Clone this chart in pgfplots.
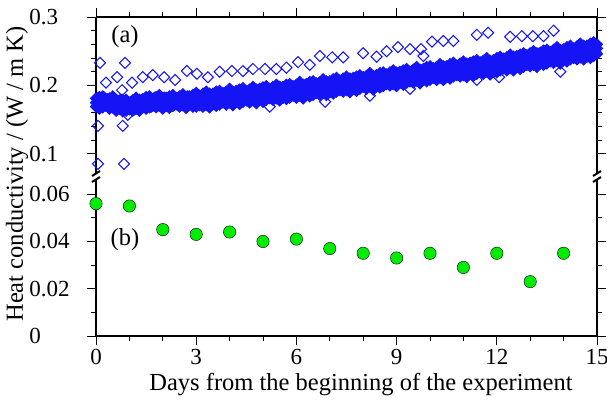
\documentclass[border=0pt]{standalone}
\usepackage{fontspec}
\setmainfont{Liberation Serif}
\usepackage{pgfplots}
\usepackage{pgfplotstable}
\pgfplotsset{compat=1.18}
\definecolor{ptblue}{RGB}{20,20,245}
\definecolor{ptgreen}{RGB}{0,236,0}

% dense logger band, panel (a)
\pgfplotstableread{
x lo mid hi
0.0 0.169 0.175 0.181
0.1 0.166 0.177 0.183
0.2 0.168 0.174 0.184
0.3 0.170 0.176 0.180
0.4 0.166 0.172 0.181
0.5 0.168 0.174 0.184
0.6 0.163 0.174 0.179
0.7 0.166 0.172 0.178
0.8 0.162 0.173 0.179
0.9 0.163 0.169 0.179
1.0 0.165 0.171 0.175
1.1 0.163 0.169 0.178
1.2 0.166 0.172 0.182
1.3 0.163 0.174 0.179
1.4 0.168 0.174 0.180
1.5 0.166 0.177 0.183
1.6 0.168 0.174 0.184
1.7 0.170 0.176 0.180
1.8 0.168 0.174 0.183
1.9 0.170 0.176 0.186
2.0 0.166 0.177 0.182
2.1 0.170 0.176 0.182
2.2 0.167 0.178 0.184
2.3 0.170 0.176 0.186
2.4 0.172 0.178 0.182
2.5 0.169 0.175 0.184
2.6 0.171 0.177 0.187
2.7 0.167 0.178 0.183
2.8 0.172 0.178 0.184
2.9 0.169 0.180 0.186
3.0 0.169 0.177 0.189
3.1 0.171 0.179 0.185
3.2 0.169 0.177 0.188
3.3 0.171 0.179 0.191
3.4 0.168 0.181 0.188
3.5 0.172 0.180 0.188
3.6 0.170 0.183 0.191
3.7 0.172 0.180 0.192
3.8 0.175 0.183 0.189
3.9 0.172 0.180 0.191
4.0 0.175 0.183 0.195
4.1 0.171 0.184 0.191
4.2 0.176 0.184 0.192
4.3 0.173 0.186 0.194
4.4 0.176 0.184 0.196
4.5 0.178 0.186 0.192
4.6 0.175 0.183 0.194
4.7 0.178 0.186 0.198
4.8 0.174 0.187 0.194
4.9 0.179 0.187 0.195
5.0 0.176 0.189 0.197
5.1 0.179 0.187 0.199
5.2 0.181 0.189 0.195
5.3 0.179 0.187 0.198
5.4 0.181 0.189 0.201
5.5 0.178 0.191 0.198
5.6 0.182 0.190 0.198
5.7 0.180 0.193 0.201
5.8 0.182 0.190 0.202
5.9 0.185 0.193 0.199
6.0 0.182 0.190 0.201
6.1 0.185 0.193 0.205
6.2 0.181 0.194 0.201
6.3 0.186 0.194 0.202
6.4 0.184 0.197 0.205
6.5 0.186 0.194 0.206
6.6 0.189 0.197 0.203
6.7 0.186 0.194 0.205
6.8 0.189 0.197 0.209
6.9 0.186 0.199 0.206
7.0 0.190 0.198 0.206
7.1 0.188 0.201 0.209
7.2 0.191 0.199 0.211
7.3 0.193 0.201 0.207
7.4 0.191 0.199 0.210
7.5 0.193 0.201 0.213
7.6 0.190 0.203 0.210
7.7 0.195 0.203 0.211
7.8 0.192 0.205 0.213
7.9 0.195 0.203 0.215
8.0 0.198 0.206 0.212
8.1 0.195 0.203 0.214
8.2 0.198 0.206 0.218
8.3 0.194 0.207 0.214
8.4 0.199 0.207 0.215
8.5 0.197 0.210 0.218
8.6 0.199 0.207 0.219
8.7 0.202 0.210 0.216
8.8 0.200 0.208 0.219
8.9 0.202 0.210 0.222
9.0 0.199 0.212 0.219
9.1 0.204 0.212 0.220
9.2 0.201 0.214 0.222
9.3 0.204 0.212 0.224
9.4 0.206 0.214 0.220
9.5 0.204 0.212 0.223
9.6 0.207 0.215 0.227
9.7 0.203 0.216 0.223
9.8 0.208 0.216 0.224
9.9 0.206 0.219 0.227
10.0 0.208 0.216 0.228
10.1 0.211 0.219 0.225
10.2 0.208 0.216 0.227
10.3 0.211 0.219 0.231
10.4 0.208 0.221 0.228
10.5 0.212 0.220 0.228
10.6 0.210 0.223 0.231
10.7 0.213 0.221 0.233
10.8 0.215 0.223 0.229
10.9 0.213 0.221 0.232
11.0 0.215 0.223 0.235
11.1 0.212 0.225 0.232
11.2 0.217 0.225 0.233
11.3 0.214 0.227 0.235
11.4 0.217 0.225 0.237
11.5 0.220 0.228 0.234
11.6 0.217 0.225 0.236
11.7 0.220 0.228 0.240
11.8 0.216 0.229 0.236
11.9 0.221 0.229 0.237
12.0 0.219 0.232 0.240
12.1 0.222 0.230 0.242
12.2 0.225 0.233 0.239
12.3 0.222 0.230 0.241
12.4 0.225 0.233 0.245
12.5 0.222 0.235 0.242
12.6 0.227 0.235 0.243
12.7 0.224 0.237 0.245
12.8 0.227 0.235 0.247
12.9 0.230 0.238 0.244
13.0 0.228 0.236 0.247
13.1 0.230 0.238 0.250
13.2 0.227 0.240 0.247
13.3 0.232 0.240 0.248
13.4 0.230 0.243 0.251
13.5 0.232 0.240 0.252
13.6 0.235 0.243 0.249
13.7 0.233 0.241 0.252
13.8 0.236 0.244 0.256
13.9 0.232 0.245 0.252
14.0 0.237 0.245 0.253
14.1 0.235 0.248 0.256
14.2 0.238 0.246 0.258
14.3 0.240 0.248 0.254
14.4 0.238 0.246 0.257
14.5 0.241 0.249 0.261
14.6 0.238 0.251 0.258
14.7 0.242 0.250 0.258
14.8 0.240 0.253 0.261
14.9 0.243 0.251 0.263
15.0 0.246 0.254 0.260
}\bandtable

% the in-between readings of the band
\pgfplotstableread{
x a b
0.05 0.171 0.181
0.15 0.169 0.179
0.25 0.172 0.182
0.35 0.170 0.180
0.45 0.172 0.177
0.55 0.170 0.180
0.65 0.167 0.177
0.75 0.169 0.179
0.85 0.166 0.176
0.95 0.168 0.173
1.05 0.166 0.176
1.15 0.165 0.175
1.25 0.169 0.179
1.35 0.168 0.178
1.45 0.172 0.177
1.55 0.171 0.181
1.65 0.169 0.179
1.75 0.172 0.182
1.85 0.171 0.181
1.95 0.174 0.179
2.05 0.172 0.182
2.15 0.170 0.180
2.25 0.173 0.183
2.35 0.172 0.182
2.45 0.175 0.180
2.55 0.173 0.183
2.65 0.171 0.181
2.75 0.174 0.184
2.85 0.173 0.183
2.95 0.176 0.181
3.05 0.174 0.184
3.15 0.172 0.182
3.25 0.176 0.186
3.35 0.174 0.184
3.45 0.178 0.183
3.55 0.176 0.186
3.65 0.175 0.185
3.75 0.178 0.188
3.85 0.177 0.187
3.95 0.180 0.185
4.05 0.179 0.189
4.15 0.177 0.187
4.25 0.181 0.191
4.35 0.179 0.189
4.45 0.183 0.188
4.55 0.181 0.191
4.65 0.179 0.189
4.75 0.183 0.193
4.85 0.181 0.191
4.95 0.185 0.190
5.05 0.183 0.193
5.15 0.182 0.192
5.25 0.185 0.195
5.35 0.184 0.194
5.45 0.187 0.192
5.55 0.186 0.196
5.65 0.184 0.194
5.75 0.188 0.198
5.85 0.186 0.196
5.95 0.190 0.195
6.05 0.188 0.198
6.15 0.187 0.197
6.25 0.190 0.200
6.35 0.189 0.199
6.45 0.193 0.198
6.55 0.191 0.201
6.65 0.190 0.200
6.75 0.193 0.203
6.85 0.192 0.202
6.95 0.196 0.201
7.05 0.194 0.204
7.15 0.193 0.203
7.25 0.197 0.207
7.35 0.195 0.205
7.45 0.199 0.204
7.55 0.197 0.207
7.65 0.196 0.206
7.75 0.200 0.210
7.85 0.198 0.208
7.95 0.202 0.207
8.05 0.201 0.211
8.15 0.199 0.209
8.25 0.203 0.213
8.35 0.201 0.211
8.45 0.205 0.210
8.55 0.204 0.214
8.65 0.202 0.212
8.75 0.206 0.216
8.85 0.205 0.215
8.95 0.208 0.213
9.05 0.207 0.217
9.15 0.206 0.216
9.25 0.209 0.219
9.35 0.208 0.218
9.45 0.211 0.216
9.55 0.210 0.220
9.65 0.209 0.219
9.75 0.212 0.222
9.85 0.211 0.221
9.95 0.215 0.220
10.05 0.213 0.223
10.15 0.212 0.222
10.25 0.215 0.225
10.35 0.214 0.224
10.45 0.218 0.223
10.55 0.216 0.226
10.65 0.215 0.225
10.75 0.219 0.229
10.85 0.217 0.227
10.95 0.221 0.226
11.05 0.219 0.229
11.15 0.218 0.228
11.25 0.222 0.232
11.35 0.220 0.230
11.45 0.224 0.229
11.55 0.223 0.233
11.65 0.221 0.231
11.75 0.225 0.235
11.85 0.223 0.233
11.95 0.227 0.232
12.05 0.226 0.236
12.15 0.225 0.235
12.25 0.229 0.239
12.35 0.227 0.237
12.45 0.231 0.236
12.55 0.230 0.240
12.65 0.229 0.239
12.75 0.232 0.242
12.85 0.231 0.241
12.95 0.235 0.240
13.05 0.234 0.244
13.15 0.232 0.242
13.25 0.236 0.246
13.35 0.235 0.245
13.45 0.239 0.244
13.55 0.237 0.247
13.65 0.236 0.246
13.75 0.240 0.250
13.85 0.239 0.249
13.95 0.242 0.247
14.05 0.241 0.251
14.15 0.240 0.250
14.25 0.244 0.254
14.35 0.242 0.252
14.45 0.246 0.251
14.55 0.245 0.255
14.65 0.244 0.254
14.75 0.247 0.257
14.85 0.246 0.256
14.95 0.250 0.255
}\bandhalf

% scattered readings, panel (a)
\pgfplotstableread{
x y
0.12 0.233
0.87 0.233
0.30 0.204
0.63 0.212
0.78 0.193
1.08 0.204
1.40 0.212
1.70 0.215
2.04 0.212
2.37 0.208
2.72 0.221
3.02 0.217
3.35 0.212
3.70 0.220
4.07 0.221
4.40 0.221
4.70 0.224
5.06 0.224
5.40 0.224
5.70 0.226
6.05 0.234
6.40 0.230
6.70 0.243
7.07 0.241
7.40 0.241
8.00 0.247
8.40 0.242
8.70 0.250
9.04 0.256
9.40 0.253
9.73 0.253
9.80 0.243
10.06 0.264
10.40 0.265
10.70 0.265
11.40 0.274
11.74 0.277
12.40 0.271
12.75 0.272
13.08 0.272
13.40 0.272
13.70 0.280
0.06 0.141
0.80 0.141
0.06 0.0854
0.84 0.0854
0.95 0.157
5.20 0.169
6.86 0.176
8.20 0.185
9.40 0.195
11.40 0.208
12.07 0.212
13.90 0.220
}\outliers

% daily values, panel (b)
\pgfplotstableread{
x y
0 0.056
1 0.055
2 0.045
3 0.043
4 0.044
5 0.040
6 0.041
7 0.037
8 0.035
9 0.033
10 0.035
11 0.029
12 0.035
13 0.023
14 0.035
}\daily

\pgfplotsset{brk/.style={
  scale only axis, width=501pt, height=156pt,
  xmin=0, xmax=15, xtick={0,3,...,15}, minor x tick num=2,
  tick align=outside, major tick length=9pt, minor tick length=5pt,
  axis line style={line width=2pt},
  every tick/.style={black, line width=0.9pt},
  clip=false, scaled y ticks=false,
  tick label style={font=\fontsize{23}{27}\selectfont},
  /pgf/number format/assume math mode=true,
  yticklabel style={anchor=west, xshift=-66pt},
  xticklabel style={yshift=4pt},
}}
\pgfplotsset{dia/.style={only marks, mark=square, mark size=3.9pt,
  mark options={rotate=45, line width=1.05pt, draw=ptblue, fill=none}}}
\pgfplotsset{diafill/.style={only marks, mark=square*, mark size=3.9pt,
  mark options={rotate=45, line width=1.05pt, draw=ptblue, fill=ptblue}}}

\begin{document}
\begin{tikzpicture}
\fontsize{24.5}{29}\selectfont
\begin{axis}[brk, at={(96pt,232pt)}, anchor=south west,
  ymin=0.072, ymax=0.3, ytick={0.1,0.2,0.3}, yticklabels={0.1,0.2,0.3},
  minor y tick num=4,
  axis x line*=top, axis y line*=box, xticklabels={}]
\addplot[diafill] table[x=x, y=lo] {\bandtable};
\addplot[diafill] table[x=x, y=hi] {\bandtable};
\addplot[diafill] table[x=x, y=a] {\bandhalf};
\addplot[diafill] table[x=x, y=mid] {\bandtable};
\addplot[diafill] table[x=x, y=b] {\bandhalf};
\addplot[dia] table[x=x, y=y] {\outliers};
\draw[line width=2pt] (rel axis cs:0,0) ++(-4pt,-3pt) -- ++(8pt,5pt);
\draw[line width=2pt] (rel axis cs:1,0) ++(-4pt,-3pt) -- ++(8pt,5pt);
\end{axis}
\begin{axis}[brk, at={(96pt,69pt)}, anchor=south west,
  ymin=0, ymax=0.066, ytick={0,0.02,0.04,0.06}, yticklabels={0,0.02,0.04,0.06},
  minor y tick num=1,
  axis x line*=bottom, axis y line*=box,
  xticklabels={0,3,6,9,12,15}]
\addplot[only marks, mark=*, mark size=6.2pt, mark options={draw=none, fill=ptgreen}]
  table[x=x, y=y] {\daily};
\draw[line width=2pt] (rel axis cs:0,1) ++(-4pt,-2pt) -- ++(8pt,5pt);
\draw[line width=2pt] (rel axis cs:1,1) ++(-4pt,-2pt) -- ++(8pt,5pt);
\end{axis}
\node at (125pt,368pt) {(a)};
\node at (125pt,165pt) {(b)};
\node[rotate=90] at (17pt,231pt) {Heat conductivity / (W / m K)};
\node at (361pt,20pt) {Days from the beginning of the experiment};
\pgfresetboundingbox
\useasboundingbox (0,0) rectangle (607pt,405pt);
\end{tikzpicture}
\end{document}
